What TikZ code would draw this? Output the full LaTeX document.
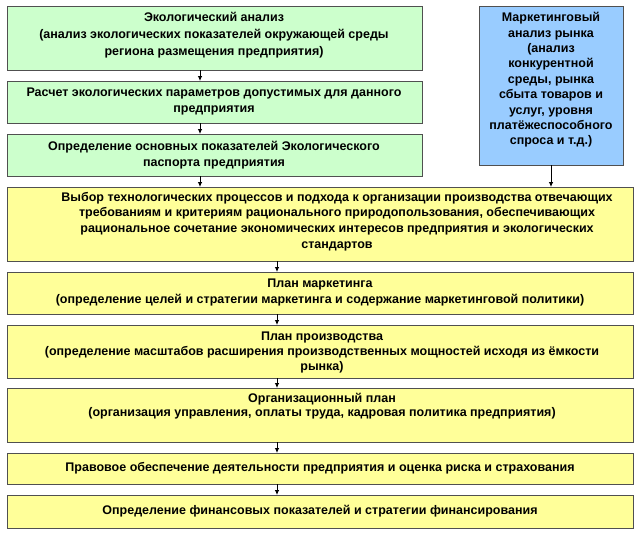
\documentclass[tikz,border=0pt]{standalone}
\usepackage{fontspec}
\setmainfont{Liberation Sans}
\usetikzlibrary{arrows.meta}
\definecolor{gfill}{HTML}{CCFFCC}
\definecolor{bfill}{HTML}{99CCFF}
\definecolor{yfill}{HTML}{FFFF99}
\definecolor{edgec}{HTML}{505050}
\tikzset{
  box/.style={draw=edgec, line width=0.9pt, inner sep=0pt, outer sep=0pt, anchor=north west},
  gbox/.style={box, fill=gfill, minimum width=415pt},
  bbox/.style={box, fill=bfill},
  ybox/.style={box, fill=yfill, minimum width=626pt},
  txt/.style={font=\bfseries\fontsize{12.5}{16}\selectfont, align=center, inner sep=0pt},
  arr/.style={-{Latex[length=5pt,width=4.5pt]}, line width=0.8pt, draw=black}
}
\begin{document}
\begin{tikzpicture}[x=1pt,y=1pt]
\useasboundingbox[fill=white] (0,0) rectangle (642,-535);
% boxes
\node[gbox, minimum height=64pt] (g1) at (7,-6) {};
\node[gbox, minimum height=42pt] (g2) at (7,-81) {};
\node[gbox, minimum height=42pt] (g3) at (7,-134) {};
\node[bbox, minimum width=144pt, minimum height=159pt] (b) at (479,-6) {};
\node[ybox, minimum height=74pt] (y1) at (7,-187) {};
\node[ybox, minimum height=42pt] (y2) at (7,-272) {};
\node[ybox, minimum height=53pt] (y3) at (7,-325) {};
\node[ybox, minimum height=54pt] (y4) at (7,-388) {};
\node[ybox, minimum height=31pt] (y5) at (7,-453) {};
\node[ybox, minimum height=33pt] (y6) at (7,-495) {};
% texts
\node[txt, font=\bfseries\fontsize{12.5}{17}\selectfont] (g1t) at (214,-35) {Экологический анализ\\(анализ экологических показателей окружающей среды\\региона размещения предприятия)};
\node[txt, font=\bfseries\fontsize{12.5}{16.5}\selectfont] (g2t) at (214,-101.5) {Расчет экологических параметров допустимых для данного\\предприятия};
\node[txt, font=\bfseries\fontsize{12.5}{16.5}\selectfont] (g3t) at (214,-155) {Определение основных показателей Экологического\\паспорта предприятия};
\node[txt, font=\bfseries\fontsize{12.5}{15.4}\selectfont] (bt) at (551,-80) {Маркетинговый\\анализ рынка\\(анализ\\конкурентной\\среды, рынка\\сбыта товаров и\\услуг, уровня\\платёжеспособного\\спроса и т.д.)};
\node[txt, font=\bfseries\fontsize{12.5}{15.7}\selectfont] (y1t) at (337,-221.5) {Выбор технологических процессов и подхода к организации производства отвечающих\\требованиям и критериям рационального природопользования, обеспечивающих\\рациональное сочетание экономических интересов предприятия и экологических\\стандартов};
\node[txt] (y2t) at (320,-292) {План маркетинга\\(определение целей и стратегии маркетинга и содержание маркетинговой политики)};
\node[txt, font=\bfseries\fontsize{12.5}{15}\selectfont] (y3t) at (322,-352) {План производства\\(определение масштабов расширения производственных мощностей исходя из ёмкости\\рынка)};
\node[txt, font=\bfseries\fontsize{12.5}{14.5}\selectfont] (y4t) at (322,-406) {Организационный план\\(организация управления, оплаты труда, кадровая политика предприятия)};
\node[txt] (y5t) at (320,-468.5) {Правовое обеспечение деятельности предприятия и оценка риска и страхования};
\node[txt] (y6t) at (320,-511) {Определение финансовых показателей и стратегии финансирования};
% arrow columns
\coordinate (gx) at (200,0);
\coordinate (yx) at (277,0);
\draw[arr] (g1.south -| gx) -- (g2.north -| gx);
\draw[arr] (g2.south -| gx) -- (g3.north -| gx);
\draw[arr] (g3.south -| gx) -- (y1.north -| gx);
\draw[arr] (b.south) -- (y1.north -| b.south);
\draw[arr] (y1.south -| yx) -- (y2.north -| yx);
\draw[arr] (y2.south -| yx) -- (y3.north -| yx);
\draw[arr] (y3.south -| yx) -- (y4.north -| yx);
\draw[arr] (y4.south -| yx) -- (y5.north -| yx);
\draw[arr] (y5.south -| yx) -- (y6.north -| yx);
\end{tikzpicture}
\end{document}
